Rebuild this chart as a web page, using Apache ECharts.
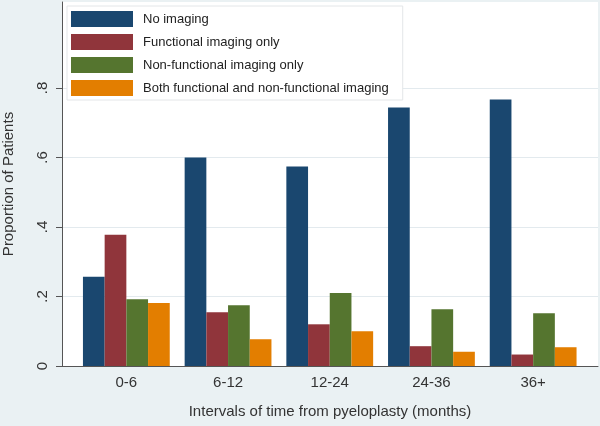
<!DOCTYPE html>
<html>
<head>
<meta charset="utf-8">
<script src="https://cdn.jsdelivr.net/npm/echarts@6/dist/echarts.min.js"></script>
<style>
html,body{margin:0;padding:0;background:#eaf1f3;}
#chart{width:600px;height:426px;}
</style>
</head>
<body>
<div id="chart"></div>
<script>
const categories = ['0-6', '6-12', '12-24', '24-36', '36+'];
const noImaging = [0.257, 0.600, 0.574, 0.744, 0.767];
const functionalOnly = [0.378, 0.155, 0.120, 0.057, 0.033];
const nonFunctionalOnly = [0.192, 0.175, 0.210, 0.163, 0.152];
const bothImaging = [0.181, 0.077, 0.100, 0.041, 0.054];
const seriesNames = ['No imaging', 'Functional imaging only', 'Non-functional imaging only', 'Both functional and non-functional imaging'];
const yTickLabels = ['0', '.2', '.4', '.6', '.8'];

const FONT = "'Liberation Sans', Arial, sans-serif";
const colors = ['#1a476f', '#90353b', '#55752f', '#e37e00'];
const seriesData = [noImaging, functionalOnly, nonFunctionalOnly, bothImaging];

const chart = echarts.init(document.getElementById('chart'));
chart.setOption({
  animation: false,
  backgroundColor: '#eaf1f3',
  textStyle: { fontFamily: FONT },
  grid: [
    { left: 62, right: 2, top: 2, bottom: 60, show: true, backgroundColor: '#ffffff', borderWidth: 0, containLabel: false, outerBoundsMode: 'none' },
    { left: 62, right: 2, top: 88, bottom: 60, containLabel: false, outerBoundsMode: 'none' },
    { left: 75.5, right: 16, top: 88, bottom: 60, containLabel: false, outerBoundsMode: 'none' }
  ],
  legend: {
    orient: 'vertical',
    left: 67,
    top: 6,
    padding: [5, 14, 4, 4],
    itemWidth: 62,
    itemHeight: 16,
    itemGap: 7,
    icon: 'rect',
    backgroundColor: '#ffffff',
    borderColor: '#e3e6e8',
    borderWidth: 1,
    textStyle: { fontSize: 13, color: '#222', fontFamily: FONT, padding: [0, 0, 0, 5] },
    data: seriesNames
  },
  xAxis: [
    {
      gridIndex: 0, type: 'value', min: 0, max: 1,
      axisLine: { show: true, onZero: false, lineStyle: { color: '#555', width: 1 } },
      axisTick: { show: false }, axisLabel: { show: false }, splitLine: { show: false },
      name: 'Intervals of time from pyeloplasty (months)',
      nameLocation: 'middle', nameGap: 38,
      nameTextStyle: { fontSize: 15, color: '#333', fontFamily: FONT }
    },
    { gridIndex: 1, type: 'value', min: 0, max: 1, show: false },
    {
      gridIndex: 2, type: 'category', data: categories,
      axisLine: { show: false }, axisTick: { show: false },
      axisLabel: { fontSize: 15, color: '#333', margin: 9, fontFamily: FONT }
    }
  ],
  yAxis: [
    {
      gridIndex: 0, type: 'value', min: 0, max: 1.047,
      axisLine: { show: true, onZero: false, lineStyle: { color: '#555', width: 1 } },
      axisTick: { show: false }, axisLabel: { show: false }, splitLine: { show: false },
      name: 'Proportion of Patients',
      nameLocation: 'middle', nameGap: 46,
      nameTextStyle: { fontSize: 15, color: '#333', fontFamily: FONT }
    },
    {
      gridIndex: 1, type: 'value', min: 0, max: 0.8, interval: 0.2,
      axisLine: { show: false },
      axisTick: { show: true, length: 6, lineStyle: { color: '#555' } },
      axisLabel: {
        rotate: 90, fontSize: 15, color: '#333', margin: 12, fontFamily: FONT,
        formatter: v => yTickLabels[Math.round(v / 0.2)]
      },
      splitLine: { show: true, lineStyle: { color: '#e3eaee', width: 1 } }
    },
    { gridIndex: 2, type: 'value', min: 0, max: 0.8, show: false }
  ],
  series: seriesNames.map((name, i) => ({
    name: name,
    type: 'bar',
    xAxisIndex: 2,
    yAxisIndex: 2,
    data: seriesData[i],
    barWidth: 21.7,
    barGap: '0%',
    itemStyle: { color: colors[i] }
  }))
});
</script>
</body>
</html>
